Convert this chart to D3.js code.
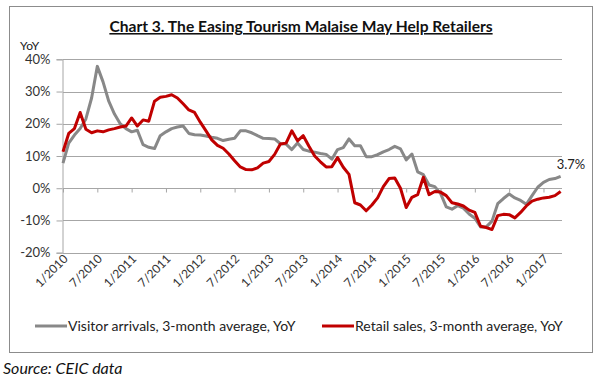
<!DOCTYPE html>
<html>
<head>
<meta charset="utf-8">
<script src="https://cdn.jsdelivr.net/npm/d3@7"></script>
<style>
  body { margin: 0; background: #fff; }
  svg { display: block; font-family: Lato, "Open Sans", sans-serif; }
</style>
</head>
<body>
<svg id="chart" width="600" height="378"></svg>
<script>
// Data ---------------------------------------------------------- //
// monthly, 1/2010 .. 4/2017
var startMonth = new Date(2010, 0, 1),
  endMonth = new Date(2017, 4, 1);

var visitorArrivals = [
  7.8, 14, 16.5, 18.5, 21.5, 28, 37.8, 33, 27, 23, 20, 18.5,
  17.5, 18, 13.5, 12.7, 12.3, 16.3, 17.5, 18.5, 19, 19.3, 17, 16.6,
  16.5, 16.2, 15.8, 15.5, 14.8, 15.2, 15.5, 17.8, 17.8, 17.2, 16.3, 15.5,
  15.4, 15.3, 13.8, 13.7, 12, 14, 12, 11.5, 11.2, 10.8, 10.5, 9,
  12, 12.6, 15.3, 13.2, 13.2, 9.8, 9.8, 10.4, 11.3, 12, 13, 12.2,
  8.8, 10.6, 5.1, 4.2, 1, 0.5, -1.6, -5.8, -6.5, -5.4, -6.2, -8,
  -9.3, -12, -12, -10.2, -4.8, -3.2, -1.8, -3, -3.8, -5, -2.3, 0.3,
  1.8, 2.7, 3.0, 3.7
];

var retailSales = [
  11.3, 17, 18.5, 23.5, 18.3, 17.2, 17.8, 17.5, 18.1, 18.5, 19, 19.3,
  21.8, 19.3, 21.2, 20.8, 27, 28.2, 28.5, 29, 28, 26.2, 24.3, 23.5,
  20.5, 17.8, 15, 13.3, 12.4, 10.6, 8.5, 6.6, 5.8, 5.7, 6.3, 7.8,
  8.3, 10.5, 13.7, 14, 17.8, 14.7, 16.3, 13, 10, 8.2, 6.6, 6.7,
  9.5, 6.5, 4.3, -4.5, -5.2, -7, -5.2, -3, 0.5, 3, 3.2, 0,
  -6, -2.8, -2, 3.4, -2, -1, -1.2, -2.3, -4.5, -4.9, -5.5, -6.8,
  -7.5, -11.8, -12.2, -12.8, -8.5, -8.1, -8.2, -9.2, -7.5, -5.5, -4, -3.4,
  -3, -2.8, -2.3, -1
];

var yTicks = [-20, -10, 0, 10, 20, 30, 40];
var seriesNames = [
  'Visitor arrivals, 3-month average, YoY',
  'Retail sales, 3-month average, YoY'
];
var lastLabel = '3.7%';

// Layout -------------------------------------------------------- //
var colors = ['#888888', '#c00000'],
  plot = { left: 63, right: 562, top: 59.3, bottom: 252.7 };

var months = d3.timeMonth.range(startMonth, endMonth);
var fmtMonth = d3.timeFormat('%-m/%Y');

var svg = d3.select('#chart');

var x = d3.scalePoint()
  .domain(months.map(fmtMonth))
  .range([plot.left, plot.left + (months.length - 1) * 5.72]);

var y = d3.scaleLinear()
  .domain([-20, 40])
  .range([plot.bottom, plot.top]);

// frame
svg.append('rect')
  .attr('x', 9.5).attr('y', 6.5)
  .attr('width', 583).attr('height', 346)
  .attr('fill', 'none')
  .attr('stroke', '#8c8c8c');

// title
svg.append('text')
  .attr('x', 301).attr('y', 32)
  .attr('text-anchor', 'middle')
  .style('font-size', '15.6px')
  .style('font-weight', 'bold')
  .style('text-decoration', 'underline')
  .attr('fill', '#111')
  .text('Chart 3. The Easing Tourism Malaise May Help Retailers');

svg.append('text')
  .attr('x', 20).attr('y', 50)
  .style('font-size', '12px')
  .attr('fill', '#222')
  .text('YoY');

// Grid + y axis ------------------------------------------------- //
svg.append('g')
  .selectAll('line')
  .data(yTicks)
  .enter()
  .append('line')
  .attr('x1', plot.left).attr('x2', plot.right)
  .attr('y1', function (d) { return Math.round(y(d)) + 0.5; })
  .attr('y2', function (d) { return Math.round(y(d)) + 0.5; })
  .attr('stroke', '#a6a6a6');

var yAxis = svg.append('g')
  .attr('transform', 'translate(' + (plot.left - 0.5) + ',0)')
  .call(d3.axisLeft(y)
    .tickValues(yTicks)
    .tickSize(6)
    .tickPadding(6)
    .tickFormat(function (d) { return d + '%'; }));

yAxis.select('.domain').attr('stroke', '#a6a6a6');
yAxis.selectAll('.tick line').attr('stroke', '#a6a6a6');
yAxis.selectAll('.tick text')
  .style('font-size', '13px')
  .style('font-family', 'Lato, sans-serif')
  .attr('fill', '#333');

// x ticks hang from the 0% line
var tickMonths = months.map(fmtMonth).filter(function (d, i) { return i % 6 === 0; });

var xTicks = svg.append('g')
  .attr('transform', 'translate(0,' + (Math.round(y(0)) + 0.5) + ')')
  .call(d3.axisBottom(x).tickValues(tickMonths).tickSize(4).tickFormat(''));
xTicks.select('.domain').remove();
xTicks.selectAll('.tick line').attr('stroke', '#a6a6a6');

// x labels at the bottom, rotated
var xLabels = svg.append('g')
  .attr('transform', 'translate(0,' + (plot.bottom + 6) + ')')
  .call(d3.axisBottom(x).tickValues(tickMonths).tickSize(0));
xLabels.select('.domain').remove();
xLabels.selectAll('.tick text')
  .attr('y', 0).attr('dy', '0.35em')
  .attr('x', 3)
  .attr('text-anchor', 'end')
  .attr('transform', 'rotate(-45)')
  .style('font-size', '12px')
  .style('font-family', 'Lato, sans-serif')
  .attr('fill', '#333');

// Lines --------------------------------------------------------- //
var line = d3.line()
  .x(function (d, i) { return x(fmtMonth(months[i])); })
  .y(function (d) { return y(d); });

[visitorArrivals, retailSales].forEach(function (series, k) {
  svg.append('path')
    .datum(series)
    .attr('d', line)
    .attr('fill', 'none')
    .attr('stroke', colors[k])
    .attr('stroke-width', 3)
    .attr('stroke-linejoin', 'round');
});

// end label
svg.append('text')
  .attr('x', x(fmtMonth(months[months.length - 1])) - 4)
  .attr('y', y(visitorArrivals[visitorArrivals.length - 1]) - 7)
  .style('font-size', '13px')
  .attr('fill', '#222')
  .text(lastLabel);

// Legend -------------------------------------------------------- //
var legendPos = [35, 322];
var legend = svg.append('g')
  .selectAll('g')
  .data(seriesNames)
  .enter()
  .append('g')
  .attr('transform', function (d, i) { return 'translate(' + legendPos[i] + ',326)'; });

legend.append('line')
  .attr('x1', 0).attr('x2', 32)
  .attr('stroke', function (d, i) { return colors[i]; })
  .attr('stroke-width', 3);

legend.append('text')
  .attr('x', 33).attr('dy', '0.35em')
  .style('font-size', '14px')
  .attr('fill', '#222')
  .text(function (d) { return d; });

// source
svg.append('text')
  .attr('x', 3).attr('y', 374)
  .style('font-size', '16px')
  .style('font-style', 'italic')
  .attr('fill', '#111')
  .text('Source: CEIC data');
</script>
</body>
</html>
